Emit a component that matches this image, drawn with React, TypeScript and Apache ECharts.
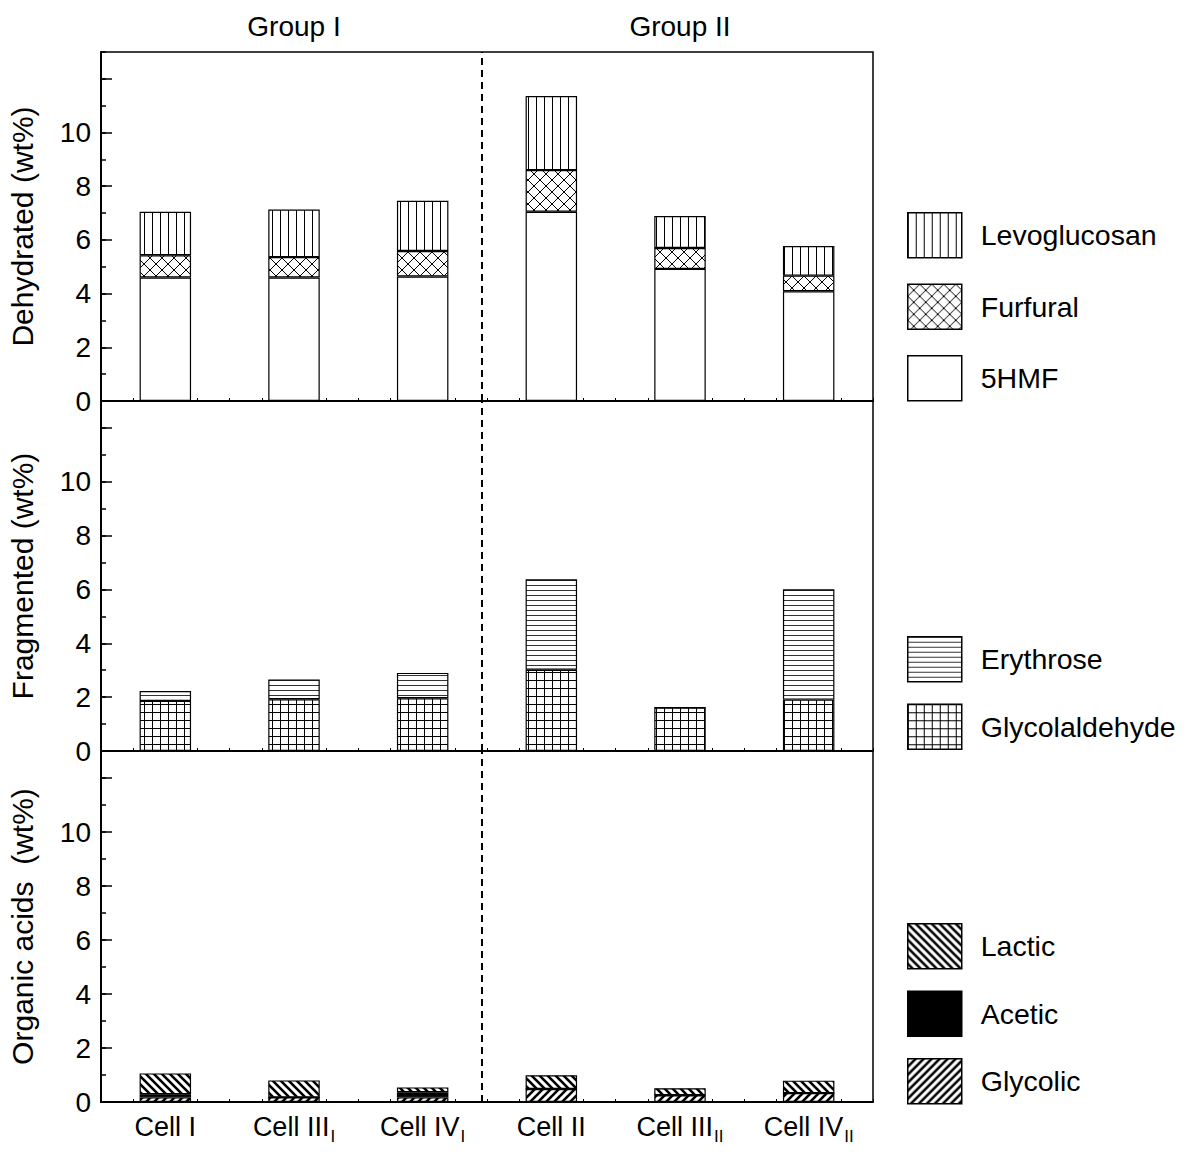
import React, { useEffect, useRef } from 'react';
import * as echarts from 'echarts';

// ---------- data ----------
const categories = ['Cell I', 'Cell III_I', 'Cell IV_I', 'Cell II', 'Cell III_II', 'Cell IV_II'];
const groupLabels = ['Group I', 'Group II'];

// Dehydrated (wt%)
const hmf5 = [4.6, 4.6, 4.64, 7.05, 4.92, 4.09];
const furfural = [0.83, 0.76, 0.95, 1.55, 0.78, 0.58];
const levoglucosan = [1.62, 1.77, 1.87, 2.76, 1.19, 1.1];

// Fragmented (wt%)
const glycolaldehyde = [1.86, 1.92, 1.96, 3.02, 1.61, 1.91];
const erythrose = [0.37, 0.74, 0.94, 3.36, 0, 4.1];

// Organic acids (wt%)
const glycolic = [0.17, 0.17, 0.17, 0.48, 0.25, 0.33];
const acetic = [0.12, 0, 0.19, 0, 0, 0];
const lactic = [0.77, 0.63, 0.18, 0.51, 0.26, 0.46];

const panelNames = ['Dehydrated (wt%)', 'Fragmented (wt%)', 'Organic acids  (wt%)'];
const yMax = 13;
const yInterval = 2;
const groupDivider = 2.96; // position of dashed separator on the 0..6 category scale

const FONT = '"Liberation Sans", Arial, Helvetica, sans-serif';

type Draw = (c: CanvasRenderingContext2D, w: number, h: number) => void;
function tile(w: number, h: number, draw: Draw) {
  const cv = document.createElement('canvas');
  cv.width = w;
  cv.height = h;
  const c = cv.getContext('2d') as CanvasRenderingContext2D;
  c.fillStyle = '#fff';
  c.fillRect(0, 0, w, h);
  draw(c, w, h);
  return { image: cv, repeat: 'repeat', imageWidth: w, imageHeight: h } as any;
}

export default function App() {
  const ref = useRef<HTMLDivElement>(null);
  useEffect(() => {
    document.body.style.margin = '0';
    const chart = echarts.init(ref.current as HTMLDivElement, null, { renderer: 'svg' });

    const pat = {
      vert: tile(8, 8, (c, w, h) => { c.fillStyle = '#000'; c.fillRect(0, 0, 1, h); }),
      cross: tile(12, 12, (c, w, h) => {
        c.strokeStyle = '#000'; c.lineWidth = 1;
        c.beginPath();
        c.moveTo(-1, -1); c.lineTo(w + 1, h + 1);
        c.moveTo(w + 1, -1); c.lineTo(-1, h + 1);
        c.stroke();
      }),
      horiz: tile(4, 5, (c, w) => { c.fillStyle = '#333'; c.fillRect(0, 0, w, 1); }),
      grid: tile(8, 8, (c, w, h) => { c.fillStyle = '#000'; c.fillRect(0, 0, 1, h); c.fillRect(0, 0, w, 1); }),
      back: tile(8, 8, (c, w, h) => {
        c.strokeStyle = '#000'; c.lineWidth = 2.6;
        c.beginPath();
        for (let k = -1; k <= 1; k++) { c.moveTo(k * w - 2, -2); c.lineTo(k * w + w + 2, h + 2); }
        c.stroke();
      }),
      slash: tile(8, 8, (c, w, h) => {
        c.strokeStyle = '#000'; c.lineWidth = 2.6;
        c.beginPath();
        for (let k = -1; k <= 1; k++) { c.moveTo(k * w + w + 2, -2); c.lineTo(k * w - 2, h + 2); }
        c.stroke();
      }),
    };

    const tops = [52, 401, 751];
    const heights = [349, 350, 351];
    const grids = tops.map((t, i) => ({
      left: 101, width: 772, top: t, height: heights[i],
      show: true, borderColor: '#000', borderWidth: 1.5, backgroundColor: 'transparent',
      outerBoundsMode: 'none', containLabel: false,
    }));

    const catAxes = [0, 1, 2].map((i) => ({
      type: 'category', gridIndex: i, data: categories, position: 'bottom',
      axisLine: { show: true, onZero: false, lineStyle: { color: '#000', width: 2 } },
      axisTick: { show: false },
      splitLine: { show: false },
      axisLabel: i < 2 ? { show: false } : {
        show: true, interval: 0, margin: 7, color: '#000',
        formatter: (v: string) => {
          const [m, s] = v.split('_');
          return s ? `{m|${m}}{s|${s}}` : `{m|${m}}`;
        },
        rich: {
          m: { fontSize: 27, fontFamily: FONT, color: '#000', lineHeight: 36 },
          s: { fontSize: 17, fontFamily: FONT, color: '#000', lineHeight: 18, padding: [18, 0, 0, 1] },
        },
      },
    }));
    const tickAxes = [0, 1, 2].map((i) => ({
      type: 'value', gridIndex: i, min: 0, max: categories.length, interval: 0.25, position: 'bottom',
      axisLine: { show: false, onZero: false },
      axisTick: { show: true, inside: true, length: 3, lineStyle: { color: '#000', width: 1 } },
      axisLabel: { show: false },
      splitLine: { show: false },
    }));
    const groupAxis = {
      type: 'category', gridIndex: 0, data: groupLabels, position: 'top',
      axisLine: { show: false }, axisTick: { show: false }, splitLine: { show: false },
      axisLabel: { show: true, margin: 12, fontSize: 28, fontFamily: FONT, color: '#000', interval: 0 },
    };

    const mainY = [0, 1, 2].map((i) => ({
      type: 'value', gridIndex: i, min: 0, max: yMax, interval: yInterval, position: 'left',
      name: panelNames[i], nameLocation: 'middle', nameGap: 64, nameMoveOverlap: false,
      nameTextStyle: { fontSize: 30, fontFamily: FONT, color: '#000' },
      axisLine: { show: true, lineStyle: { color: '#000', width: 2 } },
      axisTick: { show: true, inside: true, length: 11, lineStyle: { color: '#000', width: 1.5 } },
      axisLabel: {
        show: true, margin: 10, fontSize: 28, fontFamily: FONT, color: '#000',
        showMaxLabel: false,
        formatter: (v: number) => (v <= 10 ? String(v) : ''),
      },
      splitLine: { show: false },
    }));
    const minorY = [0, 1, 2].map((i) => ({
      type: 'value', gridIndex: i, min: 0, max: yMax, interval: 1, position: 'left',
      axisLine: { show: false },
      axisTick: { show: true, inside: true, length: 5, lineStyle: { color: '#000', width: 1.5 } },
      axisLabel: { show: false },
      splitLine: { show: false },
    }));

    const bar = (name: string, data: number[], color: any, grid: number, stack: string) => ({
      name, type: 'bar', data, stack, barWidth: '40%',
      xAxisIndex: grid, yAxisIndex: grid,
      itemStyle: { color, borderColor: '#000', borderWidth: 1.2 },
      emphasis: { disabled: true },
    });

    const divider = (i: number) => ({
      name: 'divider' + i, type: 'line', xAxisIndex: 3 + i, yAxisIndex: i, data: [],
      silent: true,
      markLine: {
        silent: true, symbol: ['none', 'none'], label: { show: false },
        lineStyle: { color: '#000', type: [7, 5], width: 2 },
        data: [{ xAxis: groupDivider }],
      },
    });

    const legendBase = {
      orient: 'vertical', left: 907, itemWidth: 54, itemHeight: 45, padding: 0,
      selectedMode: false, icon: 'rect',
      itemStyle: { borderColor: '#000', borderWidth: 1.5 },
      textStyle: { fontSize: 28.5, fontFamily: FONT, color: '#000', padding: [0, 0, 0, 14] },
    };

    chart.setOption({
      animation: false,
      backgroundColor: '#fff',
      grid: grids,
      xAxis: [...catAxes, ...tickAxes, groupAxis],
      yAxis: [...mainY, ...minorY],
      legend: [
        { ...legendBase, top: 212, itemGap: 25, data: ['Levoglucosan', 'Furfural', '5HMF'] },
        { ...legendBase, top: 636, itemGap: 21, data: ['Erythrose', 'Glycolaldehyde'] },
        { ...legendBase, top: 923, itemGap: 21, data: ['Lactic', 'Acetic', 'Glycolic'] },
      ],
      series: [
        bar('5HMF', hmf5, '#fff', 0, 'dehy'),
        bar('Furfural', furfural, pat.cross, 0, 'dehy'),
        bar('Levoglucosan', levoglucosan, pat.vert, 0, 'dehy'),
        bar('Glycolaldehyde', glycolaldehyde, pat.grid, 1, 'frag'),
        bar('Erythrose', erythrose, pat.horiz, 1, 'frag'),
        bar('Glycolic', glycolic, pat.slash, 2, 'acid'),
        bar('Acetic', acetic, '#000', 2, 'acid'),
        bar('Lactic', lactic, pat.back, 2, 'acid'),
        divider(0), divider(1), divider(2),
      ],
    });
    return () => chart.dispose();
  }, []);
  return <div ref={ref} style={{ width: 1192, height: 1158 }} />;
}
